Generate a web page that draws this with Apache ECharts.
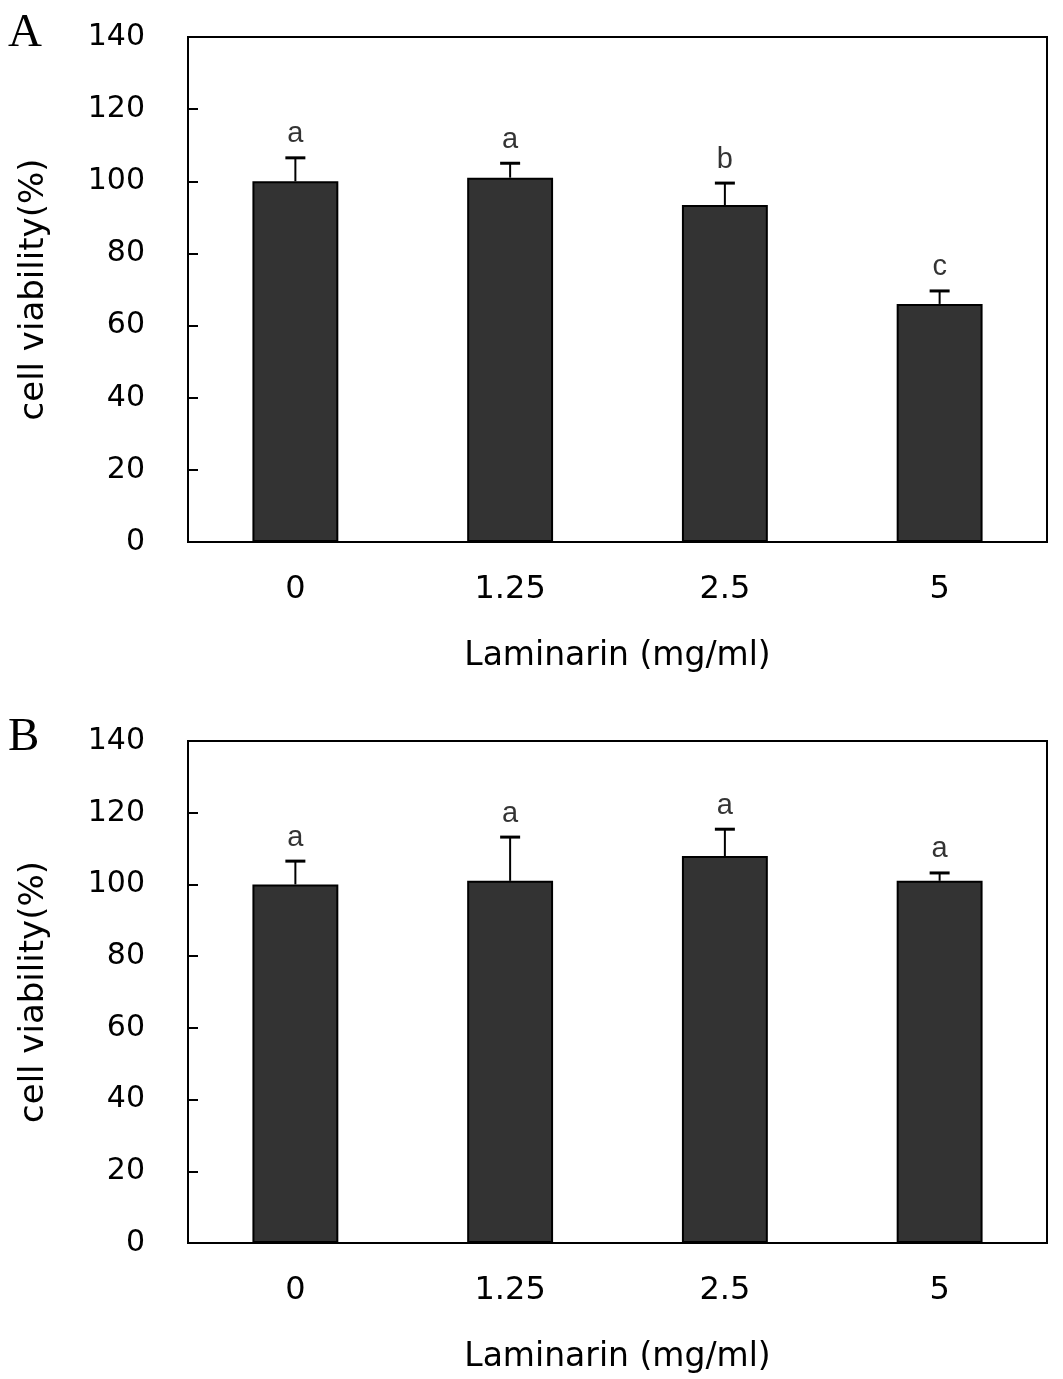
<!DOCTYPE html>
<html><head><meta charset="utf-8">
<script src="https://cdn.jsdelivr.net/npm/echarts@6/dist/echarts.min.js"></script>
<style>html,body{margin:0;padding:0;background:#fff}#c{width:1063px;height:1379px}</style>
</head><body><div id="c"></div>
<script>
const categories = ['0', '1.25', '2.5', '5'];
const valuesA = [100, 101, 93.4, 66];
const errorsA = [6.5, 4, 6.1, 3.6];
const lettersA = ['a', 'a', 'b', 'c'];
const valuesB = [100, 101, 107.9, 101];
const errorsB = [6.5, 12.2, 7.5, 2.2];
const lettersB = ['a', 'a', 'a', 'a'];
const yTicks = [0, 20, 40, 60, 80, 100, 120, 140];

const chart = echarts.init(document.getElementById('c'));
const dejavu = 'DejaVu Sans';
const arial = 'Liberation Sans';

function xAxis(gi) {
  return {
    type: 'category', data: categories, gridIndex: gi,
    axisLine: { lineStyle: { color: '#000', width: 2 } },
    axisTick: { show: false },
    axisLabel: { color: '#000', fontSize: 32, margin: 32, fontFamily: dejavu },
    name: 'Laminarin (mg/ml)', nameLocation: 'middle', nameGap: 98,
    nameTextStyle: { color: '#000', fontSize: 33, fontFamily: dejavu }
  };
}
function yAxis(gi) {
  return {
    type: 'value', min: 0, max: 140, interval: 20, gridIndex: gi,
    axisLine: { show: true, lineStyle: { color: '#000', width: 2 } },
    axisTick: { show: true, inside: true, length: 10, lineStyle: { color: '#000', width: 2 } },
    splitLine: { show: false },
    axisLabel: { color: '#000', fontSize: 30, margin: 43, fontFamily: dejavu,
      formatter: v => yTicks.includes(v) ? String(v) : '' },
    name: 'cell viability(%)', nameLocation: 'middle', nameGap: 137, nameRotate: 90,
    nameTextStyle: { color: '#000', fontSize: 34, fontFamily: dejavu }
  };
}
function errSeries(gi, vals, errs) {
  return {
    type: 'custom', xAxisIndex: gi, yAxisIndex: gi, z: 5,
    data: vals.map((v, i) => [i, v, errs[i]]),
    renderItem: (params, api) => {
      const x = api.value(0), v = api.value(1), e = api.value(2);
      const p0 = api.coord([x, v]);
      const p1 = api.coord([x, v + e]);
      const hw = 10;
      return {
        type: 'group', children: [
          { type: 'line', shape: { x1: p0[0], y1: p0[1], x2: p1[0], y2: p1[1] }, style: { stroke: '#000', lineWidth: 2 } },
          { type: 'line', shape: { x1: p1[0] - hw, y1: p1[1], x2: p1[0] + hw, y2: p1[1] }, style: { stroke: '#000', lineWidth: 3 } }
        ]
      };
    }
  };
}
function letterSeries(gi, vals, errs, letters) {
  return {
    type: 'scatter', xAxisIndex: gi, yAxisIndex: gi, z: 6, symbolSize: 0,
    data: vals.map((v, i) => [i, v + errs[i]]),
    label: { show: true, position: 'top', distance: 9, color: '#000', fontSize: 29, fontFamily: arial,
      formatter: p => letters[p.dataIndex] },
    silent: true
  };
}
function barSeries(gi, vals) {
  return {
    type: 'bar', xAxisIndex: gi, yAxisIndex: gi, data: vals, barWidth: '40%',
    itemStyle: { color: '#333333', borderColor: '#000', borderWidth: 2 }
  };
}

chart.setOption({
  animation: false,
  backgroundColor: '#fff',
  graphic: [
    { type: 'text', left: 8, top: 10, style: { text: 'A', fill: '#000', fontSize: 47, fontFamily: 'Liberation Serif' } },
    { type: 'text', left: 8, top: 714, style: { text: 'B', fill: '#000', fontSize: 47, fontFamily: 'Liberation Serif' } }
  ],
  grid: [
    { left: 188, top: 37, width: 859, height: 505, show: true, borderColor: '#000', borderWidth: 2, backgroundColor: 'transparent', containLabel: false, outerBoundsMode: 'none' },
    { left: 188, top: 741, width: 859, height: 502, show: true, borderColor: '#000', borderWidth: 2, backgroundColor: 'transparent', containLabel: false, outerBoundsMode: 'none' }
  ],
  xAxis: [xAxis(0), xAxis(1)],
  yAxis: [yAxis(0), yAxis(1)],
  series: [
    barSeries(0, valuesA), errSeries(0, valuesA, errorsA), letterSeries(0, valuesA, errorsA, lettersA),
    barSeries(1, valuesB), errSeries(1, valuesB, errorsB), letterSeries(1, valuesB, errorsB, lettersB)
  ]
});
</script></body></html>
